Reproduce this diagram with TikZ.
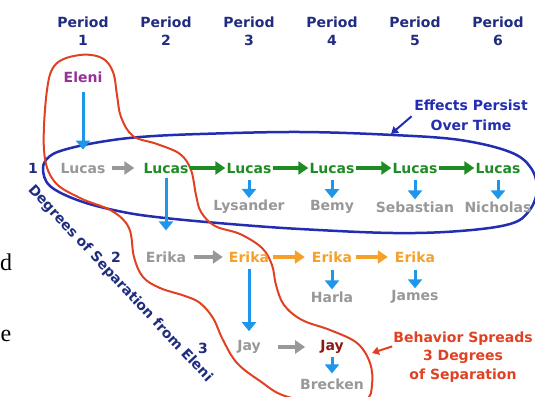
\documentclass[tikz,border=0pt]{standalone}
\usepackage{fontspec}
\setmainfont{DejaVu Sans}
\newfontfamily\bookfont{Liberation Serif}
\usetikzlibrary{arrows.meta,positioning,calc}

\definecolor{navy}{RGB}{32,44,128}
\definecolor{grayname}{RGB}{152,152,152}
\definecolor{lucasgreen}{RGB}{30,140,35}
\definecolor{erikaorange}{RGB}{245,160,40}
\definecolor{arrowblue}{RGB}{30,150,235}
\definecolor{elenipurple}{RGB}{150,50,150}
\definecolor{jayred}{RGB}{140,25,20}
\definecolor{spreadred}{RGB}{225,65,35}
\definecolor{ringblue}{RGB}{35,45,175}

\begin{document}
\begin{tikzpicture}[x=1pt,y=-1pt,
		every node/.style={font=\bfseries\fontsize{14}{18}\selectfont, inner sep=1pt},
		period/.style={text=navy, align=center},
		friend/.style={text=grayname},
		rownum/.style={text=navy},
		flow/.style={-{Triangle[length=10pt,width=13pt]}, line width=3.5pt},
		down/.style={draw=arrowblue, -{Triangle[length=9pt,width=14pt]}, line width=3pt, shorten <=6pt, shorten >=1pt},
		note/.style={-{Triangle[length=7pt,width=8pt]}, line width=2pt},
	]
	\useasboundingbox (0,0) rectangle (535,396);
	\clip (0,0) rectangle (535,396);
	% groups
	\draw[ringblue, line width=2.5pt] plot[smooth cycle, tension=0.6] coordinates {
		(43,168) (50,186) (80,201) (123,212) (165,218) (230,224) (300,229)
		(393,233) (460,231) (510,224) (529,211) (537,190) (531,168) (510,152)
		(460,140) (393,135) (300,132) (200,134) (140,137) (100,142) (67,149)
		(50,156)};
	\draw[spreadred, line width=2pt] plot[smooth cycle, tension=0.6] coordinates {
		(44,150) (47,90) (56,64) (80,55) (102,58) (113,72) (117,95) (121,117)
		(133,136) (157,144) (180,154) (191,170) (196,195) (201,212) (215,226)
		(240,234) (262,248) (272,265) (276,285) (284,305) (302,320) (330,330)
		(357,343) (370,363) (372,385) (365,400) (330,404) (285,396) (260,381)
		(237,363) (223,340) (213,318) (200,303) (185,296) (160,288) (143,277)
		(134,257) (129,228) (112,211) (80,198) (54,181)};
	%
	\node[period] (p1) at (83,31) {Period\\1};
	\node[period] (p2) at ($(p1)+(83,0)$) {Period\\2};
	\node[period] (p3) at ($(p2)+(83,0)$) {Period\\3};
	\node[period] (p4) at ($(p3)+(83,0)$) {Period\\4};
	\node[period] (p5) at ($(p4)+(83,0)$) {Period\\5};
	\node[period] (p6) at ($(p5)+(83,0)$) {Period\\6};
	%
	\node[text=elenipurple] (eleni) at (83,77) {Eleni};
	\node[friend] (lucas1) at (83,168) {Lucas};
	\node[text=lucasgreen] (lucas2) at ($(lucas1)+(83,0)$) {Lucas};
	\node[text=lucasgreen] (lucas3) at ($(lucas2)+(83,0)$) {Lucas};
	\node[text=lucasgreen] (lucas4) at ($(lucas3)+(83,0)$) {Lucas};
	\node[text=lucasgreen] (lucas5) at ($(lucas4)+(83,0)$) {Lucas};
	\node[text=lucasgreen] (lucas6) at ($(lucas5)+(83,0)$) {Lucas};
	\node[friend] (lysander) at ($(lucas3)+(0,39)$) {Lysander};
	\node[friend] (bemy) at ($(lucas4)+(0,39)$) {Bemy};
	\node[friend] (sebastian) at ($(lucas5)+(0,39)$) {Sebastian};
	\node[friend] (nicholas) at ($(lucas6)+(0,39)$) {Nicholas};
	%
	\node[friend] (erika2) at (166,257) {Erika};
	\node[text=erikaorange] (erika3) at ($(erika2)+(83,0)$) {Erika};
	\node[text=erikaorange] (erika4) at ($(erika3)+(83,0)$) {Erika};
	\node[text=erikaorange] (erika5) at ($(erika4)+(83,0)$) {Erika};
	\node[friend] (harla) at ($(erika4)+(0,40)$) {Harla};
	\node[friend] (james) at ($(erika5)+(0,40)$) {James};
	%
	\node[friend] (jay3) at (249,347) {Jay};
	\node[text=jayred] (jay4) at ($(jay3)+(83,0)$) {Jay};
	\node[friend] (brecken) at ($(jay4)+(0,37)$) {Brecken};
	%
	\node[rownum] (deg1) at (33,168) {1};
	\node[rownum] (deg2) at (116,257) {2};
	\node[rownum] (deg3) at (203,348) {3};
	\node[text=navy, rotate=-47] (axis) at (120,284) {Degrees of Separation from Eleni};
	%
	\node[text=ringblue, align=center, font=\bfseries\fontsize{14}{20}\selectfont] (persist) at (471,115) {Effects Persist\\Over Time};
	\node[text=spreadred, align=center, font=\bfseries\fontsize{14}{18.5}\selectfont] (spread) at (463,357) {Behavior Spreads\\3 Degrees\\of Separation};
	\coordinate (ring top) at (391,134);
	\coordinate (loop side) at (372,353);
	%
	\node[font=\bookfont\fontsize{24}{24}\selectfont] (cutd) at (6,262) {d};
	\node[font=\bookfont\fontsize{24}{24}\selectfont] (cute) at (6,336) {e};
	%
	\draw[flow, grayname, shorten <=5pt, shorten >=8pt] (lucas1) -- (lucas2);
	\draw[flow, lucasgreen] (lucas2) -- (lucas3);
	\draw[flow, lucasgreen] (lucas3) -- (lucas4);
	\draw[flow, lucasgreen] (lucas4) -- (lucas5);
	\draw[flow, lucasgreen] (lucas5) -- (lucas6);
	\draw[flow, grayname, shorten <=7pt, shorten >=5pt] (erika2) -- (erika3);
	\draw[flow, erikaorange, shorten <=3pt, shorten >=6pt] (erika3) -- (erika4);
	\draw[flow, erikaorange, shorten <=3pt, shorten >=6pt] (erika4) -- (erika5);
	\draw[flow, grayname, shorten <=16pt, shorten >=14pt] (jay3) -- (jay4);
	%
	\draw[down, shorten <=8pt, shorten >=12pt] (eleni) -- (lucas1);
	\draw[down, shorten <=4pt, shorten >=20pt] (lucas2) -- (erika2);
	\draw[down, shorten <=5pt, shorten >=8pt] (erika3) -- (jay3);
	\draw[down] (lucas3) -- (lysander);
	\draw[down] (lucas4) -- (bemy);
	\draw[down] (lucas5) -- (sebastian);
	\draw[down] (lucas6) -- (nicholas);
	\draw[down] (erika4) -- (harla);
	\draw[down] (erika5) -- (james);
	\draw[down, shorten <=2pt, shorten >=4pt] (jay4) -- (brecken);
	%
	\draw[note, ringblue, shorten <=2pt] (persist.west) -- (ring top);
	\draw[note, spreadred] ($(spread.north west)!0.3!(spread.south west)$) -- (loop side);
\end{tikzpicture}
\end{document}
